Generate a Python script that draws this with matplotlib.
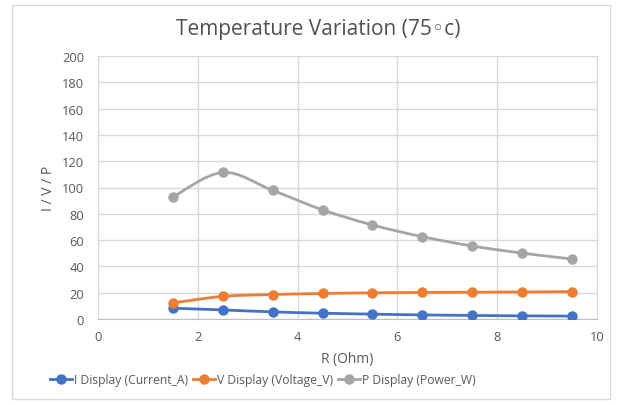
import numpy as np
import matplotlib
matplotlib.use('Agg')
import matplotlib.pyplot as plt
from matplotlib.path import Path
from matplotlib.patches import PathPatch, Rectangle
from matplotlib.lines import Line2D

plt.rcParams['font.family'] = ['Open Sans', 'DejaVu Sans']

# data
r_ohm = [1.5, 2.5, 3.5, 4.5, 5.5, 6.5, 7.5, 8.5, 9.5]
current_a = [8.2, 6.9, 5.4, 4.4, 3.7, 3.1, 2.7, 2.4, 2.2]
voltage_v = [12.2, 17.2, 18.6, 19.4, 19.9, 20.2, 20.4, 20.6, 20.8]
power_w = [92.7, 111.5, 97.8, 83.0, 71.5, 62.6, 55.5, 50.1, 45.6]

series = [
    ('I Display (Current_A)', current_a, '#4472C4'),
    ('V Display (Voltage_V)', voltage_v, '#ED7D31'),
    ('P Display (Power_W)', power_w, '#A5A5A5'),
]


def smooth_path(ax, xs, ys):
    # Excel-like smoothed line: cubic bezier segments with catmull-rom tangents
    pts = ax.transData.transform(np.column_stack([xs, ys]))
    n = len(pts)
    verts = [pts[0]]
    codes = [Path.MOVETO]
    for i in range(n - 1):
        p0 = pts[max(i - 1, 0)]
        p1 = pts[i]
        p2 = pts[i + 1]
        p3 = pts[min(i + 2, n - 1)]
        c1 = p1 + (p2 - p0) / 6.0
        c2 = p2 - (p3 - p1) / 6.0
        verts += [c1, c2, p2]
        codes += [Path.CURVE4] * 3
    return Path(verts, codes)


fig = plt.figure(figsize=(6.24, 4.06), dpi=100)
fig.patches.append(Rectangle((12 / 624, 6 / 406), 598 / 624, 394 / 406,
                             transform=fig.transFigure, fill=False,
                             edgecolor='#d9d9d9', linewidth=1))
ax = fig.add_axes([98 / 624, 1 - 320 / 406, 499 / 624, 263 / 406])

ax.set_xlim(0, 10)
ax.set_ylim(0, 200)
ax.set_xticks(range(0, 11, 2))
ax.set_yticks(range(0, 201, 20))
ax.grid(True, color='#d9d9d9', linewidth=1)
ax.set_axisbelow(True)
for s in ['top', 'right', 'left']:
    ax.spines[s].set_visible(False)
ax.spines['bottom'].set_color('#bfbfbf')
ax.tick_params(length=0, labelsize=9.3, labelcolor='#595959')
ax.tick_params(axis='y', pad=10)
ax.tick_params(axis='x', pad=8)
for gl in ax.get_xgridlines():
    gl.set_clip_on(False)

fig.canvas.draw()
handles = []
for label, vals, color in series:
    path = smooth_path(ax, r_ohm, vals)
    patch = PathPatch(path, facecolor='none', edgecolor=color, linewidth=2,
                      transform=None, zorder=3)
    patch.set_clip_path(ax.patch)
    ax.add_artist(patch)
    ax.plot(r_ohm, vals, linestyle='none', marker='o', markersize=6.5,
            color=color, zorder=4)
    handles.append(Line2D([], [], color=color, linewidth=2, marker='o',
                          markersize=6.5, label=label))

ax.set_xlabel('R (Ohm)', fontsize=10, color='#595959', labelpad=6)
ax.set_ylabel('I / V / P', fontsize=10, color='#595959', labelpad=4)
fig.suptitle('Temperature Variation (75\u25e6c)', x=318 / 624, y=1 - 30 / 406,
             va='center', fontsize=15, color='#505050')
fig.legend(handles=handles, loc='center', bbox_to_anchor=(263 / 624, 1 - 381 / 406),
           ncol=3, frameon=False, fontsize=8.7, labelcolor='#595959',
           handlelength=1.8, columnspacing=0.4, handletextpad=0.2)

fig.savefig('out.png', dpi=100)
